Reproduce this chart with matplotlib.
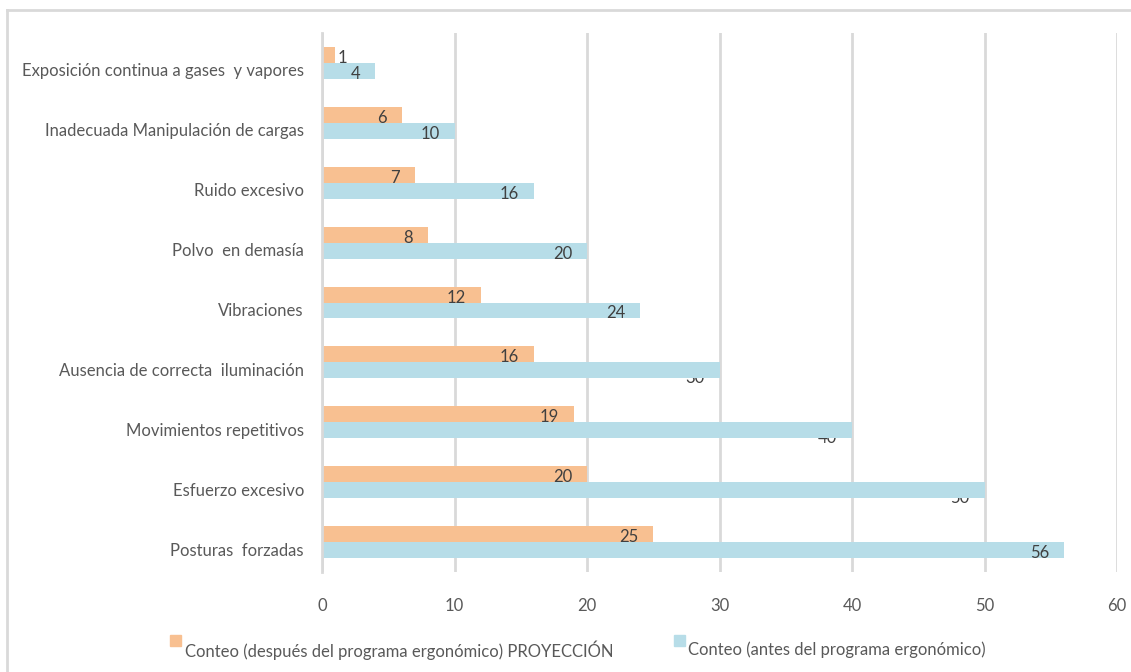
import matplotlib
matplotlib.use("Agg")
import matplotlib.pyplot as plt
from matplotlib.patches import Rectangle
from matplotlib.lines import Line2D
from matplotlib.transforms import ScaledTranslation

# Risk factors, top to bottom
categories = [
    "Exposición continua a gases  y vapores",
    "Inadecuada Manipulación de cargas",
    "Ruido excesivo",
    "Polvo  en demasía",
    "Vibraciones",
    "Ausencia de correcta  iluminación",
    "Movimientos repetitivos",
    "Esfuerzo excesivo",
    "Posturas  forzadas",
]
despues = [1, 6, 7, 8, 12, 16, 19, 20, 25]
antes = [4, 10, 16, 20, 24, 30, 40, 50, 56]

series_names = [
    "Conteo (después del programa ergonómico) PROYECCIÓN",
    "Conteo (antes del programa ergonómico)",
]
x_ticks = [0, 10, 20, 30, 40, 50, 60]

# Styling
C_ORANGE = "#F8C091"
C_BLUE = "#B7DDE8"
C_TEXT = "#595959"
C_VALUE = "#404040"
C_GRID = "#D9D9D9"
FONT = ["Lato", "DejaVu Sans"]
FS = 12
# labels of the "antes" series that sit lower, tucked behind their bar
blue_label_tucked = [False, False, False, False, False, True, True, True, False]

plt.rcParams["font.family"] = FONT

W, H = 1131, 672
fig = plt.figure(figsize=(W / 100, H / 100), dpi=100)
fig.patch.set_facecolor("white")

left, right, top, bottom = 322, 1117, 33, 572
ax = fig.add_axes([left / W, 1 - bottom / H, (right - left) / W, (bottom - top) / H])

n = len(categories)
ypos = list(range(n))
bh = 0.267

y_or = [y - bh / 2 for y in ypos]
y_bl = [y + bh / 2 for y in ypos]
ax.barh(y_or, despues, height=bh, color=C_ORANGE, zorder=3)
ax.barh(y_bl, antes, height=bh, color=C_BLUE, zorder=3)

ax.set_xlim(0, 60)
ax.set_ylim(n - 0.5, -0.5)
ax.set_xticks(x_ticks)
ax.set_xticklabels([str(t) for t in x_ticks])
ax.set_yticks(ypos)
ax.set_yticklabels(categories)
ax.tick_params(axis="both", length=0, colors=C_TEXT, labelsize=FS)
ax.tick_params(axis="y", pad=13)
ax.tick_params(axis="x", pad=19)
shift_down = ScaledTranslation(0, -7 / 100, fig.dpi_scale_trans)
for lab in ax.get_yticklabels():
    lab.set_color(C_TEXT)
    lab.set_transform(lab.get_transform() + shift_down)
for lab in ax.get_xticklabels():
    lab.set_color(C_TEXT)

ax.grid(axis="x", color=C_GRID, linewidth=2, zorder=0)
ax.grid(axis="y", visible=False)
for s in ["top", "right", "bottom"]:
    ax.spines[s].set_visible(False)
ax.spines["left"].set_color(C_GRID)
ax.spines["left"].set_linewidth(2)
ax.spines["left"].set_zorder(4)

# value labels
for y, v in zip(y_or, despues):
    if v < 2:
        ax.annotate(str(v), xy=(v, y), xytext=(2, -3), textcoords="offset pixels",
                    ha="left", va="center", fontsize=FS, color=C_VALUE, zorder=5)
    else:
        ax.annotate(str(v), xy=(v, y), xytext=(-15, -3), textcoords="offset pixels",
                    ha="right", va="center", fontsize=FS, color=C_VALUE, zorder=5)
for y, v, tucked in zip(y_bl, antes, blue_label_tucked):
    if tucked:
        ax.annotate(str(v), xy=(v, y), xytext=(-15, -8), textcoords="offset pixels",
                    ha="right", va="center", fontsize=FS, color=C_VALUE, zorder=2)
    else:
        ax.annotate(str(v), xy=(v, y), xytext=(-15, -3), textcoords="offset pixels",
                    ha="right", va="center", fontsize=FS, color=C_VALUE, zorder=5)

# legend along the bottom
legend_items = [(170, 185, C_ORANGE, series_names[0]), (674, 688, C_BLUE, series_names[1])]
for sx, tx, col, name in legend_items:
    fig.patches.append(Rectangle((sx / W, 1 - 646 / H), 11 / W, 11 / H,
                                 transform=fig.transFigure, color=col))
    fig.text(tx / W, 1 - 650 / H, name, ha="left", va="center",
             fontsize=FS, color=C_TEXT)

# outer frame (top and left edges)
fig.add_artist(Line2D([7 / W, 1], [1 - 10 / H, 1 - 10 / H], transform=fig.transFigure,
                      color=C_GRID, linewidth=2))
fig.add_artist(Line2D([7 / W, 7 / W], [0, 1 - 10 / H], transform=fig.transFigure,
                      color=C_GRID, linewidth=2))

fig.savefig("out.png", dpi=100, facecolor="white")
